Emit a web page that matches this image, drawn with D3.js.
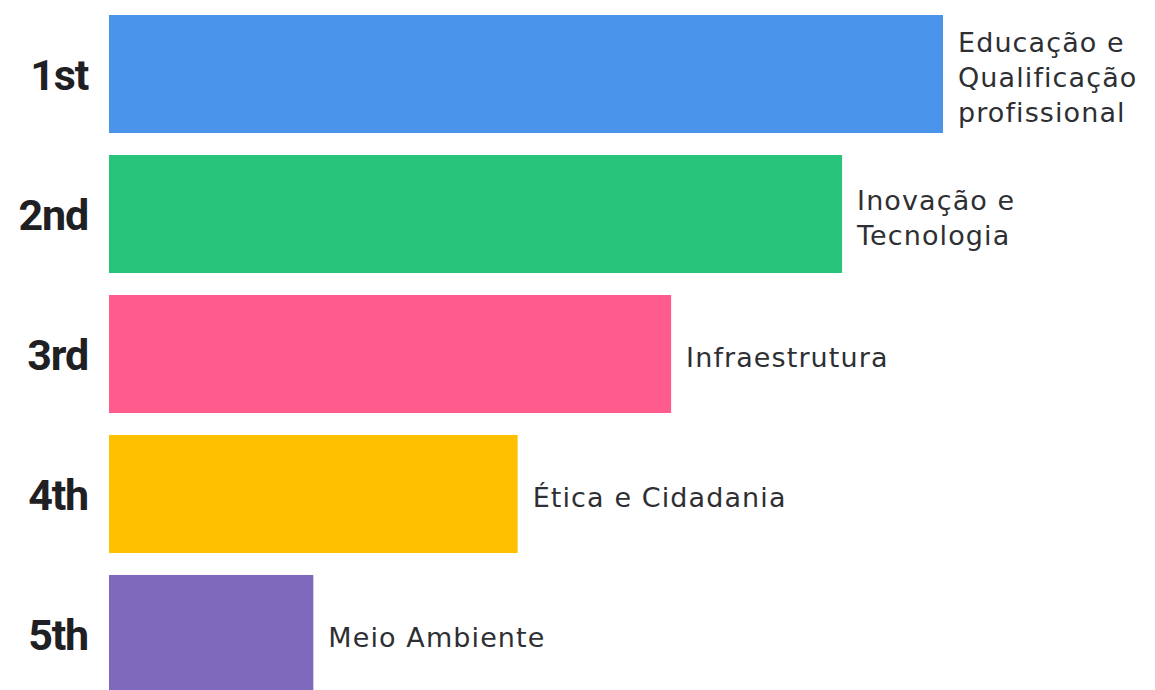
<!DOCTYPE html>
<html>
<head>
<meta charset="utf-8">
<script src="https://cdn.jsdelivr.net/npm/d3@7"></script>
<style>
  body { margin: 0; background: #fff; }
  svg { display: block; }
</style>
</head>
<body>
<div id="chart"></div>
<script>
var width = 1155;
var height = 690;

// data (bar lengths relative to the longest)
var ranks = ["1st", "2nd", "3rd", "4th", "5th"];
var categories = [
  ["Educação e", "Qualificação", "profissional"],
  ["Inovação e", "Tecnologia"],
  ["Infraestrutura"],
  ["Ética e Cidadania"],
  ["Meio Ambiente"]
];
var scores = [100, 87.9, 67.4, 49.0, 24.5];
var colors = ["#4b94ec", "#29c47c", "#ff5c8d", "#ffc000", "#7e69bd"];

var svg = d3.select("#chart").append("svg")
  .attr("width", width)
  .attr("height", height);

var x = d3.scaleLinear()
  .domain([0, 100])
  .range([109, 943]);

var y = d3.scaleBand()
  .domain(ranks)
  .range([4, 704])
  .paddingInner(0.157)
  .paddingOuter(0.0786);

var rows = svg.selectAll("g.row")
  .data(ranks)
  .enter().append("g")
  .attr("class", "row");

rows.append("rect")
  .attr("x", x(0))
  .attr("y", function(d) { return y(d); })
  .attr("width", function(d, i) { return x(scores[i]) - x(0); })
  .attr("height", y.bandwidth())
  .attr("fill", function(d, i) { return colors[i]; });

// rank labels on the left
rows.append("text")
  .attr("x", 88)
  .attr("y", function(d) { return y(d) + y.bandwidth() / 2 + 16; })
  .attr("text-anchor", "end")
  .attr("font-family", "Roboto")
  .attr("font-weight", "bold")
  .attr("font-size", 43)
  .attr("letter-spacing", -1.2)
  .attr("fill", "#1f2024")
  .text(function(d) { return d; });

// category labels after each bar
var lineH = 35;
rows.append("text")
  .attr("font-family", "DejaVu Sans")
  .attr("font-size", 27)
  .attr("letter-spacing", 1.1)
  .attr("fill", "#2e2f33")
  .each(function(d, i) {
    var lines = categories[i];
    var cy = y(d) + y.bandwidth() / 2 + 13;
    d3.select(this).selectAll("tspan")
      .data(lines)
      .enter().append("tspan")
      .attr("x", x(scores[i]) + 15)
      .attr("y", function(l, j) { return cy + (j - (lines.length - 1) / 2) * lineH; })
      .text(function(l) { return l; });
  });
</script>
</body>
</html>
